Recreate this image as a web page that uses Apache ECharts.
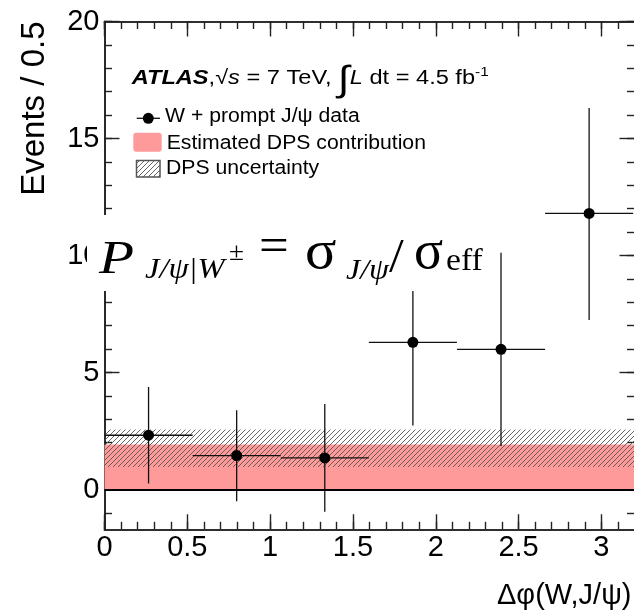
<!DOCTYPE html>
<html><head><meta charset="utf-8">
<script src="https://cdn.jsdelivr.net/npm/echarts@6/dist/echarts.min.js"></script>
<style>html,body{margin:0;padding:0;background:#fff}#c{width:634px;height:616px}</style>
</head><body><div id="c"></div>
<script>
// ---- data ----
const binCenters    = [0.266, 0.798, 1.330, 1.862, 2.394, 2.926];
const binHalfWidths = [0.266, 0.266, 0.266, 0.266, 0.266, 0.266];
const events        = [2.32, 1.45, 1.35, 6.29, 5.99, 11.80];
const errorLow      = [0.26, -0.50, -0.95, 2.74, 1.86, 7.24];
const errorHigh     = [4.38, 3.39, 3.65, 8.60, 10.12, 16.30];
const dpsEstimate   = 1.92;
const dpsUncertainty = [0.96, 2.57];
const xRange = [0, 3.2];
const yRange = [-1.7, 20];
const xTickLabels = [0, 0.5, 1, 1.5, 2, 2.5, 3];
const xMinorTicks = [0,0.1,0.2,0.3,0.4,0.5,0.6,0.7,0.8,0.9,1,1.1,1.2,1.3,1.4,1.5,1.6,1.7,1.8,1.9,2,2.1,2.2,2.3,2.4,2.5,2.6,2.7,2.8,2.9,3,3.1];
const yTickLabels = [0, 5, 10, 15, 20];
const yMinorTicks = [-1,0,1,2,3,4,5,6,7,8,9,10,11,12,13,14,15,16,17,18,19,20];

const RED = '#ff9a9a';
const SANS = '"Liberation Sans", Arial, Helvetica, sans-serif';
const SERIF = '"Liberation Serif", "Times New Roman", serif';

function hatchCanvas() {
  const s = 5, c = document.createElement('canvas');
  c.width = s; c.height = s;
  const g = c.getContext('2d');
  g.strokeStyle = '#555'; g.lineWidth = 0.9;
  g.beginPath();
  g.moveTo(0, s); g.lineTo(s, 0);
  g.moveTo(-1, 1); g.lineTo(1, -1);
  g.moveTo(s - 1, s + 1); g.lineTo(s + 1, s - 1);
  g.stroke();
  return c;
}
const HATCH = { image: hatchCanvas(), repeat: 'repeat' };

const AXC = '#222';
function xAx(pos, ticks, len, labels) {
  return {
    type: 'value', position: pos, min: xRange[0], max: xRange[1],
    axisLine: { show: true, onZero: false, lineStyle: { color: AXC, width: 1.6 } },
    axisTick: { show: true, inside: true, length: len, customValues: ticks, lineStyle: { color: AXC, width: 1.4 } },
    axisLabel: labels ? { show: true, customValues: labels, margin: 4, color: '#000', fontSize: 29, fontFamily: SANS } : { show: false },
    splitLine: { show: false }
  };
}
function yAx(pos, ticks, len, labels) {
  return {
    type: 'value', position: pos, min: yRange[0], max: yRange[1],
    axisLine: { show: true, onZero: false, lineStyle: { color: AXC, width: 1.6 } },
    axisTick: { show: true, inside: true, length: len, customValues: ticks, lineStyle: { color: AXC, width: 1.4 } },
    axisLabel: labels ? { show: true, customValues: labels, margin: 5, color: '#000', fontSize: 29, fontFamily: SANS } : { show: false },
    splitLine: { show: false }
  };
}

const xAxes = [
  xAx('bottom', xTickLabels, 15, xTickLabels),
  xAx('bottom', xMinorTicks, 7.5, null),
  xAx('top', xTickLabels, 15, null),
  xAx('top', xMinorTicks, 7.5, null)
];
xAxes[0].name = 'Δφ(W,J/ψ)';
xAxes[0].nameLocation = 'end';
xAxes[0].nameGap = -3;
xAxes[0].nameTextStyle = { fontSize: 29, fontFamily: SANS, color: '#000', align: 'right', verticalAlign: 'top', padding: [52, 0, 0, 0] };

const yAxes = [
  yAx('left', yTickLabels, 15, yTickLabels),
  yAx('left', yMinorTicks, 7.5, null),
  yAx('right', yTickLabels, 15, null),
  yAx('right', yMinorTicks, 7.5, null)
];
yAxes[0].name = 'Events / 0.5';
yAxes[0].nameLocation = 'end';
yAxes[0].nameRotate = 90;
yAxes[0].nameGap = 0;
yAxes[0].nameTextStyle = { fontSize: 33, fontFamily: SANS, color: '#000', align: 'right', verticalAlign: 'bottom', padding: [0, 0, 53, 0] };

function bandItem(fill) {
  return function (params, api) {
    const p0 = api.coord([api.value(0), api.value(3)]);
    const p1 = api.coord([api.value(1), api.value(2)]);
    return { type: 'rect', shape: { x: p0[0], y: p0[1], width: p1[0] - p0[0], height: p1[1] - p0[1] }, style: { fill: fill } };
  };
}

function pointItem(params, api) {
  const x = api.value(0), y = api.value(1), hw = api.value(2), lo = api.value(3), hi = api.value(4);
  const c = api.coord([x, y]);
  const l = api.coord([x - hw, y]), r = api.coord([x + hw, y]);
  const b = api.coord([x, lo]), t = api.coord([x, hi]);
  const ls = { stroke: '#111', lineWidth: 1.3 };
  return { type: 'group', children: [
    { type: 'line', shape: { x1: l[0], y1: c[1], x2: r[0], y2: c[1] }, style: ls },
    { type: 'line', shape: { x1: c[0], y1: b[1], x2: c[0], y2: t[1] }, style: ls },
    { type: 'circle', shape: { cx: c[0], cy: c[1], r: 5.5 }, style: { fill: '#000' } }
  ]};
}

// ---- graphic overlays (legend, labels, formula box) ----
const mctx = document.createElement('canvas').getContext('2d');
function txt(x, baseline, text, size, opts) {
  opts = opts || {};
  const family = opts.family || SANS;
  const font = (opts.style || 'normal') + ' ' + (opts.weight || 'normal') + ' ' + size + 'px ' + family;
  return { type: 'text', x: x, y: baseline - 0.34 * size, z: 110, scaleX: opts.sx || 1,
    style: { text: text, font: font, fill: '#000', align: 'left', verticalAlign: 'middle' } };
}
function flow(x, baseline, list, sx) {
  const out = [];
  for (const r of list) {
    const font = (r.style || 'normal') + ' ' + (r.weight || 'normal') + ' ' + r.size + 'px ' + (r.family || SANS);
    mctx.font = font;
    const w = mctx.measureText(r.text).width * sx;
    out.push(txt(x + (r.dx || 0), baseline + (r.dy || 0), r.text, r.size, { style: r.style, weight: r.weight, family: r.family, sx: sx }));
    x += w + (r.dx || 0);
  }
  return out;
}

const graphics = [];
// ATLAS label
graphics.push(...flow(131.7, 85, [
  { text: 'ATLAS', size: 20, style: 'italic', weight: 'bold' },
  { text: ',', size: 20 },
  { text: '√', size: 20 },
  { text: 's', size: 20, style: 'italic' },
  { text: ' = 7 TeV, ', size: 20 },
  { text: '∫', size: 36, dy: 8 },
  { text: 'L', size: 20, style: 'italic' },
  { text: ' dt = 4.5 fb', size: 20 },
  { text: '-1', size: 13, dy: -8 }
], 1.18));
// legend: data
graphics.push({ type: 'line', z: 110, shape: { x1: 136.7, y1: 118.3, x2: 160, y2: 118.3 }, style: { stroke: '#111', lineWidth: 1.3 } });
graphics.push({ type: 'circle', z: 111, shape: { cx: 148.3, cy: 118.3, r: 5.5 }, style: { fill: '#000' } });
graphics.push(txt(165, 123.3, 'W + prompt J/ψ data', 20, { sx: 1.06 }));
// legend: DPS contribution
graphics.push({ type: 'rect', z: 110, shape: { x: 133.3, y: 132.7, width: 28.4, height: 19, r: 3 }, style: { fill: RED } });
graphics.push(txt(166.7, 150.7, 'Estimated DPS contribution', 20, { sx: 1.06 }));
// legend: DPS uncertainty
graphics.push({ type: 'rect', z: 110, shape: { x: 136.5, y: 160.5, width: 23.5, height: 16.5 }, style: { fill: HATCH, stroke: '#555', lineWidth: 1.5 } });
graphics.push(txt(166, 175, 'DPS uncertainty', 20, { sx: 1.06 }));
// formula box
graphics.push({ type: 'rect', z: 100, shape: { x: 87, y: 215, width: 400, height: 76 }, style: { fill: '#fff' } });
graphics.push(txt(99, 277, 'P', 47, { family: SERIF, style: 'italic', sx: 1.22 }));
graphics.push(txt(145, 280, 'J/ψ|W', 29, { family: SERIF, style: 'italic', sx: 1.12 }));
graphics.push(txt(229, 262, '±', 26, { family: SERIF, sx: 1.05 }));
graphics.push(txt(259, 265, '=', 48, { family: SERIF, sx: 1.1 }));
graphics.push(txt(305, 272, 'σ', 54, { family: SERIF, sx: 1.08 }));
graphics.push(txt(346, 281, 'J/ψ', 29, { family: SERIF, style: 'italic', sx: 1.1 }));
graphics.push(txt(389, 276, '/', 48, { family: SERIF, sx: 1.1 }));
graphics.push(txt(414, 272, 'σ', 54, { family: SERIF, sx: 1.0 }));
graphics.push(txt(446, 272, 'eff', 32, { family: SERIF, sx: 1.05 }));

const option = {
  animation: false,
  backgroundColor: '#fff',
  grid: { left: 104.5, top: 21.5, width: 530, height: 507.8, containLabel: false, outerBoundsMode: 'none' },
  xAxis: xAxes,
  yAxis: yAxes,
  series: [
    { name: 'Estimated DPS contribution', type: 'custom', z: 1, clip: true,
      data: [[xRange[0], xRange[1], 0, dpsEstimate]], renderItem: bandItem(RED), silent: true },
    { name: 'DPS uncertainty', type: 'custom', z: 2, clip: true,
      data: [[xRange[0], xRange[1], dpsUncertainty[0], dpsUncertainty[1]]], renderItem: bandItem(HATCH), silent: true },
    { name: 'zero', type: 'line', z: 3, data: [], silent: true,
      markLine: { symbol: 'none', silent: true, label: { show: false }, lineStyle: { color: '#000', width: 2.2, type: 'solid' }, data: [{ yAxis: 0 }] } },
    { name: 'W + prompt J/ψ data', type: 'custom', z: 4, clip: true,
      encode: { x: 0, y: 1 },
      data: binCenters.map((x, i) => [x, events[i], binHalfWidths[i], errorLow[i], errorHigh[i]]),
      renderItem: pointItem }
  ],
  graphic: { elements: graphics }
};
const chart = echarts.init(document.getElementById('c'));
chart.setOption(option);
</script></body></html>
